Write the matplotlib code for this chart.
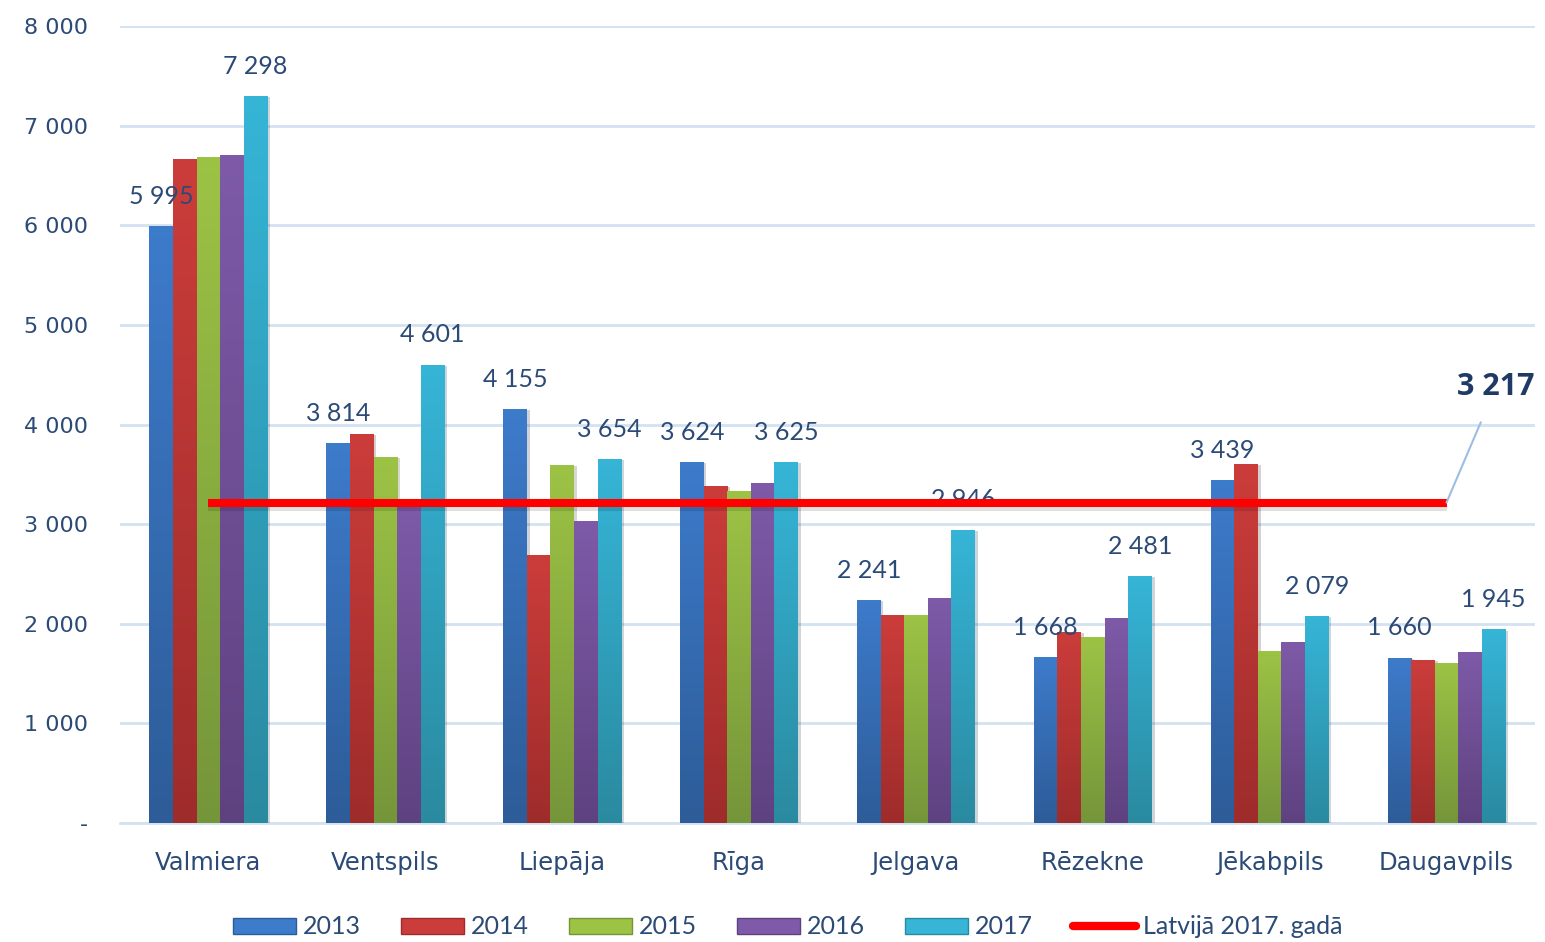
import matplotlib
matplotlib.use("Agg")
import matplotlib.pyplot as plt
import matplotlib.patheffects as pe
import numpy as np
from matplotlib.colors import LinearSegmentedColormap
from matplotlib.patches import Patch
from matplotlib.lines import Line2D

cities = ["Valmiera", "Ventspils", "Liepāja", "Rīga", "Jelgava",
          "Rēzekne", "Jēkabpils", "Daugavpils"]
years = ["2013", "2014", "2015", "2016", "2017"]

v2013 = [5995, 3814, 4155, 3624, 2241, 1668, 3439, 1660]
v2014 = [6667, 3906, 2691, 3383, 2088, 1918, 3604, 1637]
v2015 = [6687, 3675, 3594, 3333, 2088, 1867, 1727, 1610]
v2016 = [6707, 3200, 3032, 3414, 2259, 2058, 1817, 1717]
v2017 = [7298, 4601, 3654, 3625, 2946, 2481, 2079, 1945]
series = [v2013, v2014, v2015, v2016, v2017]

latvia_2017 = 3217
line_label = "Latvijā 2017. gadā"

top_cols = ["#3D7BCB", "#CB3D3B", "#9DC345", "#7E5AA8", "#36B5D7"]
bot_cols = ["#2D5C98", "#9E2C2B", "#75953A", "#5E4280", "#2A8AA0"]

txt_col = "#2B4A76"
grid_col = "#D3E1F1"

fig = plt.figure(figsize=(15.45, 9.42), dpi=100)
ax = fig.add_axes([0.0777, 0.1263, 0.9158, 0.8461])

x = np.arange(len(cities))
w = 0.1334
grad = np.linspace(1, 0, 256).reshape(-1, 1)

for i, vals in enumerate(series):
    cmap = LinearSegmentedColormap.from_list("g%d" % i, [bot_cols[i], top_cols[i]])
    bars = ax.bar(x + (i - 2) * w, vals, w, color=top_cols[i], zorder=3,
                  path_effects=[pe.SimplePatchShadow(offset=(2, -1), alpha=0.2),
                                pe.Normal()])
    for b in bars:
        im = ax.imshow(grad, cmap=cmap, aspect="auto", zorder=3.5,
                       extent=[b.get_x(), b.get_x() + b.get_width(), 0, b.get_height()])
        im.set_clip_path(b)

# value labels on first and last year
for i in (0, 4):
    for xi, v in zip(x, series[i]):
        ax.annotate(f"{v:,}".replace(",", " "), (xi + (i - 2) * w, v),
                    xytext=(0, 16), textcoords="offset points",
                    ha="center", va="baseline", fontsize=18, family="Lato",
                    color=txt_col, zorder=4)

# national average line
ax.plot([x[0], x[-1]], [latvia_2017, latvia_2017], color="#FF0000", lw=5.8,
        zorder=6, solid_capstyle="butt",
        path_effects=[pe.SimpleLineShadow(offset=(0, -3), alpha=0.12), pe.Normal()])
ax.annotate(f"{latvia_2017:,}".replace(",", " "), xy=(x[-1], latvia_2017),
            xytext=(7.28, 4300), ha="center", va="baseline", fontsize=22,
            fontweight="bold", family="Open Sans", color="#1F3A64",
            arrowprops=dict(arrowstyle="-", color="#9DBDE3", lw=1.5,
                            shrinkA=14, shrinkB=0), zorder=7)

ax.set_xlim(-0.5, len(cities) - 0.5)
ax.set_ylim(0, 8000)
ax.set_yticks(range(0, 8001, 1000))
ax.set_yticklabels(["-"] + [f"{t:,}".replace(",", " ") for t in range(1000, 8001, 1000)])
ax.set_xticks(x)
ax.set_xticklabels(cities)
ax.tick_params(axis="y", length=0, pad=23, labelsize=16, labelcolor=txt_col)
ax.tick_params(axis="x", length=0, pad=20, labelsize=17.5, labelcolor=txt_col)
for lab in ax.get_yticklabels():
    lab.set_horizontalalignment("right")
ax.grid(axis="y", color=grid_col, lw=2, zorder=0)
ax.set_axisbelow(True)
for s in ["top", "right", "left"]:
    ax.spines[s].set_visible(False)
ax.spines["bottom"].set_color(grid_col)
ax.spines["bottom"].set_linewidth(2)

handles = [Patch(facecolor=top_cols[i], edgecolor=bot_cols[i]) for i in range(5)]
handles.append(Line2D([0], [0], color="#FF0000", lw=6, solid_capstyle="round"))
fig.legend(handles, years + [line_label], loc="center", ncol=6,
           bbox_to_anchor=(0.51, 0.016), frameon=False,
           prop={"family": "Lato", "size": 18}, labelcolor=txt_col,
           handlelength=2.5, handleheight=0.6, handletextpad=0.3,
           columnspacing=1.6)

fig.savefig("out.png", dpi=100)
